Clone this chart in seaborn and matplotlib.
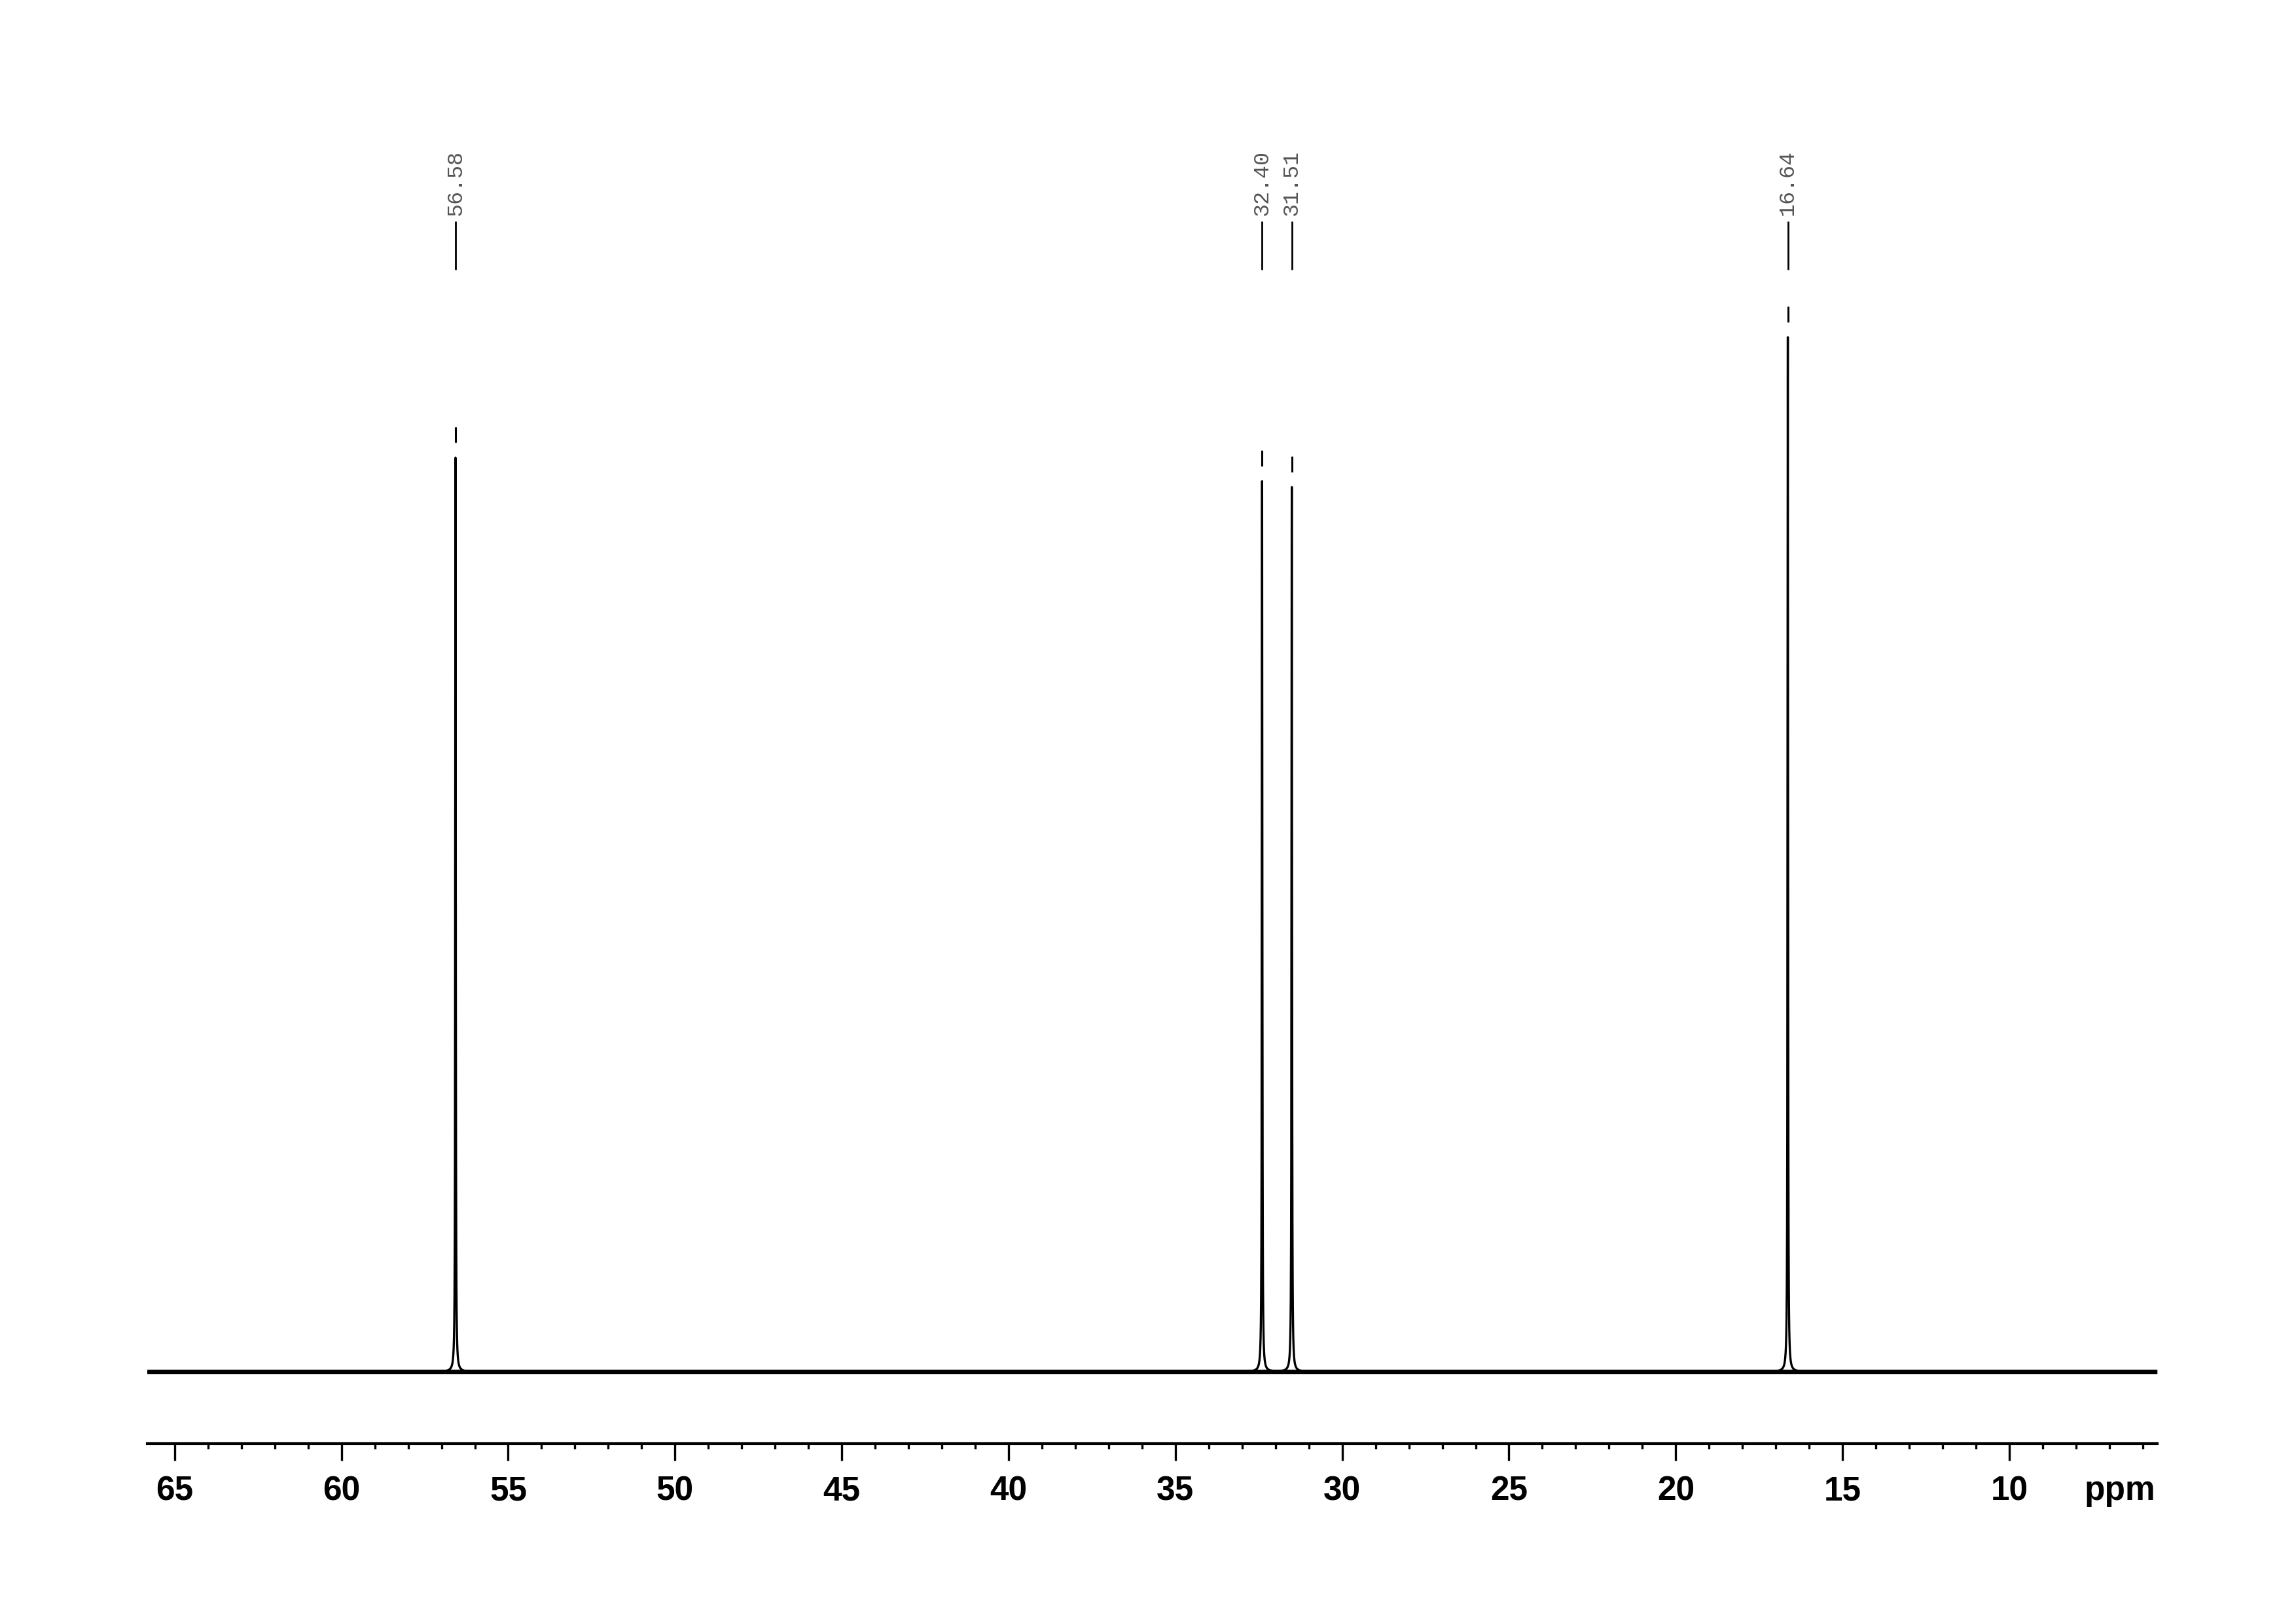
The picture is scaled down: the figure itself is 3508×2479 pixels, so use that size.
import numpy as np
import matplotlib.pyplot as plt
import seaborn as sns

# Peak list (ppm, intensity in arbitrary units)
peak_ppm = [56.58, 32.40, 31.51, 16.64]
peak_height = [1396, 1360, 1351, 1580]
peak_labels = ["56.58", "32.40", "31.51", "16.64"]
peak_hwhm = 0.009  # ppm

major_ticks = [65, 60, 55, 50, 45, 40, 35, 30, 25, 20, 15, 10]
minor_ticks = list(range(6, 66))
x_range = (65.83, 5.57)
noise_level = 3.5


def spectrum(ppm):
    y = np.zeros_like(ppm)
    for c, h in zip(peak_ppm, peak_height):
        y += h / (1 + ((ppm - c) / peak_hwhm) ** 2)
    return y


if __name__ == "__main__":
    sns.set_style("white")
    plt.rcParams["font.family"] = ["Liberation Sans", "DejaVu Sans"]

    fig = plt.figure(figsize=(35.08, 24.79), dpi=100)
    ax = fig.add_axes([0.0640, 0.1105, 0.8755, 0.8088])

    grid = np.sort(np.concatenate([np.arange(x_range[1], x_range[0], 0.002), peak_ppm]))
    df = {"ppm": grid, "intensity": spectrum(grid)}

    ax.fill_between(grid, -noise_level, noise_level, color="black", lw=0)
    sns.lineplot(x=df["ppm"], y=df["intensity"], ax=ax, color="black",
                 linewidth=2.4, estimator=None, sort=False)

    # peak annotations
    for c, h, lab in zip(peak_ppm, peak_height, peak_labels):
        ax.vlines(c, h + 23, h + 47, color="black", lw=2.2)
        ax.vlines(c, 1683, 1757, color="black", lw=2.0)
        ax.text(c, 1766, lab, rotation=90, ha="center", va="bottom",
                family="Liberation Mono", fontsize=24, color="#555555")

    ax.set_xlim(*x_range)
    ax.set_ylim(-110, 1895)
    ax.set_yticks([])
    ax.set_xticks(major_ticks, labels=[str(t) for t in major_ticks],
                  fontsize=37, fontweight="bold", color="black")
    ax.set_xticks(minor_ticks, minor=True)
    ax.tick_params(axis="x", which="major", length=19, width=2.4, pad=16,
                   direction="out", bottom=True, color="black", labelcolor="black")
    ax.tick_params(axis="x", which="minor", length=6, width=2.4,
                   direction="out", bottom=True, color="black")
    for s in ["left", "right", "top"]:
        ax.spines[s].set_visible(False)
    ax.spines["bottom"].set_linewidth(3.0)
    ax.spines["bottom"].set_color("black")
    ax.set_xlabel("")
    ax.set_ylabel("")

    fig.text(3293 / 3508, (2479 - 2291) / 2479, "ppm", ha="right", va="baseline",
             fontsize=37, fontweight="bold", color="black")

    fig.savefig("out.png", dpi=100, facecolor="white")
